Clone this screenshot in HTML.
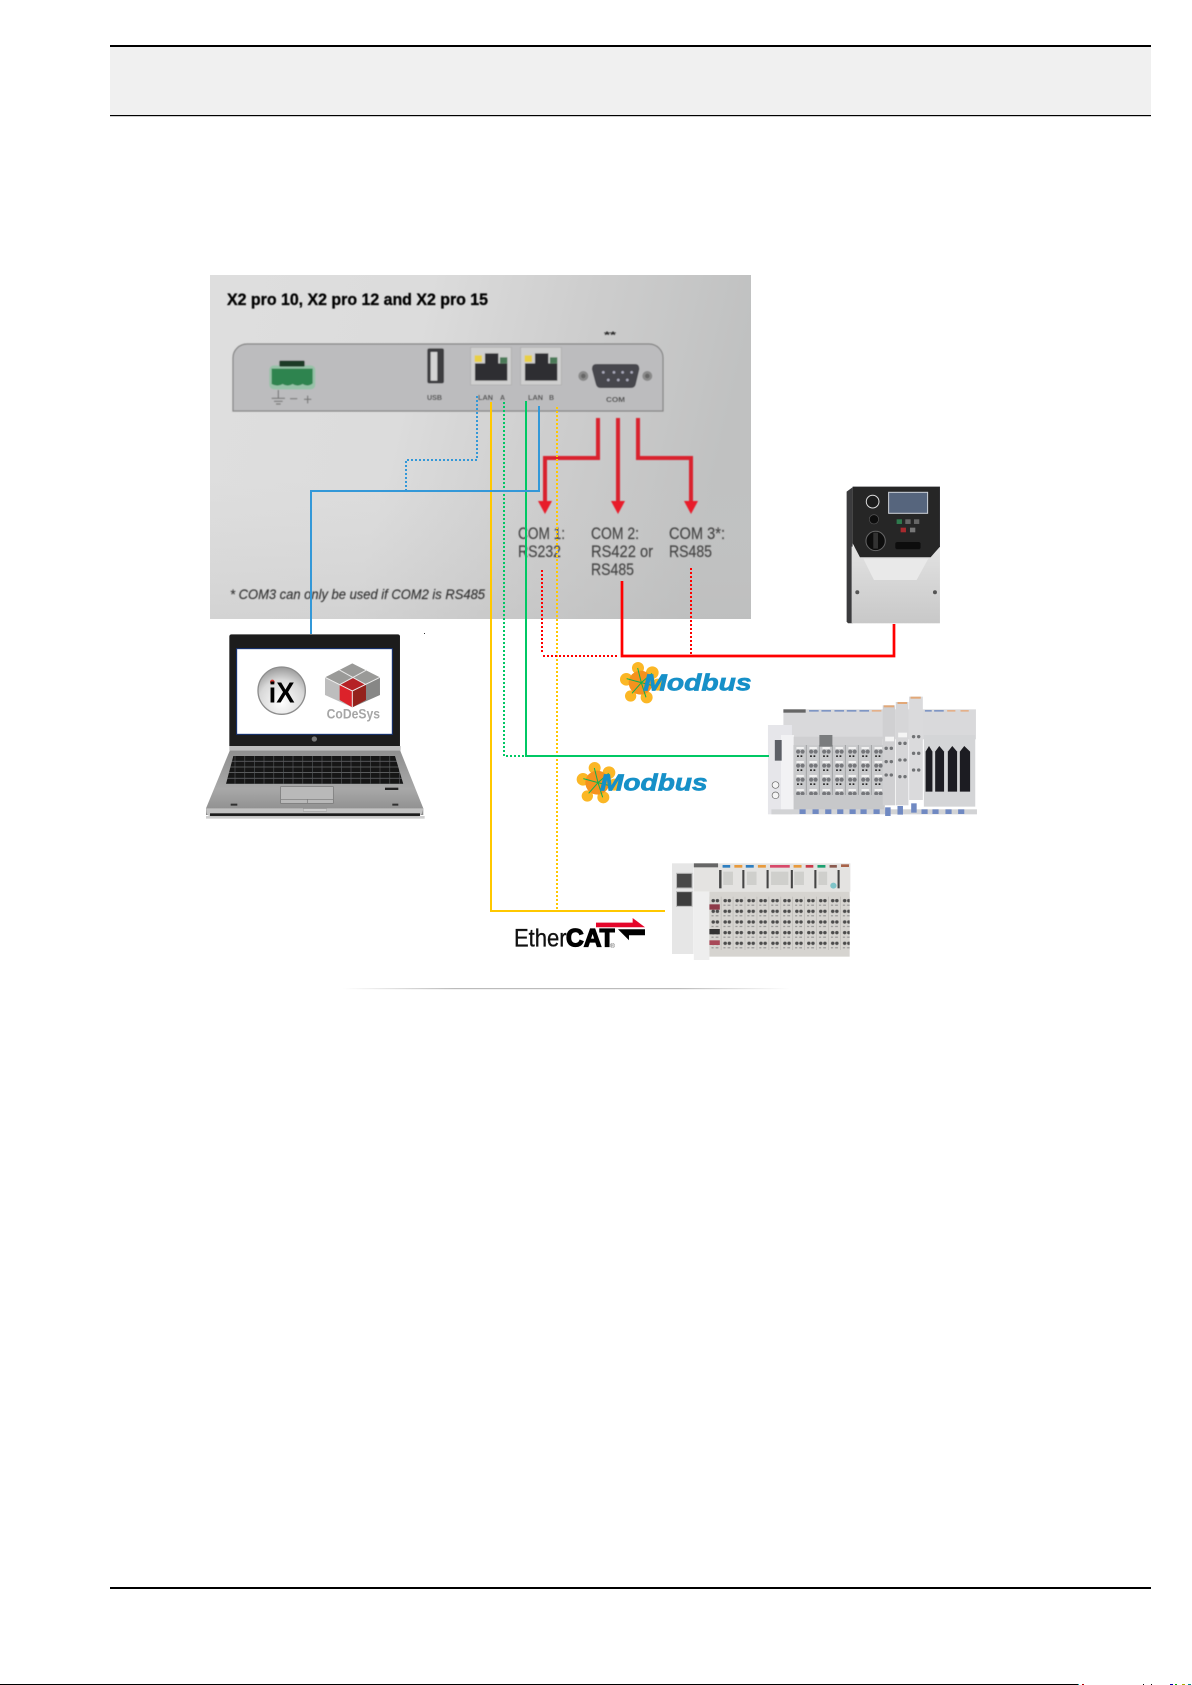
<!DOCTYPE html>
<html><head><meta charset="utf-8"><style>
html,body{margin:0;padding:0;background:#fff;width:1192px;height:1685px;overflow:hidden}
svg{display:block}
text{font-family:"Liberation Sans",sans-serif}
</style></head><body>
<svg width="1192" height="1685" viewBox="0 0 1192 1685" xmlns="http://www.w3.org/2000/svg">
<defs>
<filter id="b1" x="-5%" y="-5%" width="110%" height="110%"><feGaussianBlur stdDeviation="0.5"/></filter>
<filter id="b2" x="-5%" y="-5%" width="110%" height="110%"><feGaussianBlur stdDeviation="1.2"/></filter>
<linearGradient id="pg" x1="0" y1="0" x2="1" y2="0.15">
<stop offset="0" stop-color="#dedede"/><stop offset="0.4" stop-color="#dcdcdc"/><stop offset="0.7" stop-color="#cdcdcd"/><stop offset="1" stop-color="#c0c1c1"/></linearGradient>
<linearGradient id="sh" x1="0" y1="0" x2="0" y2="1"><stop offset="0" stop-color="#fff" stop-opacity="0"/><stop offset="0.6" stop-color="#ccc" stop-opacity="0"/><stop offset="1" stop-color="#bbb" stop-opacity=".3"/></linearGradient>
<linearGradient id="rule" x1="0" y1="0" x2="1" y2="0"><stop offset="0" stop-color="#bbb" stop-opacity="0"/><stop offset="0.25" stop-color="#bbb"/><stop offset="0.75" stop-color="#bbb"/><stop offset="1" stop-color="#bbb" stop-opacity="0"/></linearGradient>
<linearGradient id="base" x1="0" y1="0" x2="0" y2="1"><stop offset="0" stop-color="#8f8f8f"/><stop offset="0.6" stop-color="#a8a8a8"/><stop offset="1" stop-color="#8a8a8a"/></linearGradient>
<radialGradient id="ix" cx="0.5" cy="0.75" r="0.8"><stop offset="0" stop-color="#fff"/><stop offset="0.6" stop-color="#d8d8d8"/><stop offset="1" stop-color="#8d8d8d"/></radialGradient>
<linearGradient id="dr" x1="0" y1="0" x2="0" y2="1"><stop offset="0" stop-color="#e2e2e2"/><stop offset="1" stop-color="#c8c8c8"/></linearGradient>
<pattern id="keys" width="29" height="17" patternUnits="userSpaceOnUse" x="108" y="408"><rect width="29" height="17" fill="#141414"/><rect y="15" width="29" height="2" fill="#77797c"/><rect x="26" width="2" height="17" fill="#55575a"/></pattern>
<pattern id="io1" width="38" height="42" patternUnits="userSpaceOnUse" x="105" y="165"><rect width="38" height="42" fill="#c9cacc"/><rect x="8" y="6" width="22" height="6" fill="#f2f2f2"/><circle cx="13" cy="20" r="6" fill="#74767a"/><circle cx="26" cy="20" r="6" fill="#74767a"/><rect x="10" y="31" width="5" height="5" fill="#222"/><rect x="20" y="31" width="5" height="5" fill="#222"/><rect x="36" width="2" height="42" fill="#8e9092"/></pattern>
<pattern id="io2" width="34.5" height="32" patternUnits="userSpaceOnUse" x="130" y="125"><rect width="34.5" height="32" fill="#d6d4d0"/><circle cx="11" cy="12" r="5" fill="#4c4c4c"/><circle cx="23" cy="12" r="5" fill="#4c4c4c"/><rect x="6" y="24" width="6" height="3" fill="#8a8a8a"/><rect x="18" y="24" width="8" height="3" fill="#8a8a8a"/><rect x="33" width="1.5" height="32" fill="#b3b1ad"/></pattern>
<g id="flower">
<g fill="#fbb726"><circle cx="474" cy="84" r="18"/><circle cx="517" cy="98" r="19"/><circle cx="439" cy="118" r="19"/><circle cx="533" cy="134" r="18"/><circle cx="452" cy="168" r="17"/><circle cx="500" cy="172" r="18"/></g>
<circle cx="482" cy="128" r="36" fill="#f5921e"/>
<g stroke="#10b050" stroke-width="3" fill="none"><path d="M484 128 473 84M484 128 516 100M484 128 440 116M484 128 456 160M484 128 498 172M484 128 530 140"/></g>
</g>
</defs>

<!-- header / footer -->
<rect x="110" y="47" width="1041" height="68" fill="#f0f0f0"/>
<rect x="110" y="45" width="1041" height="2" fill="#000"/>
<rect x="110" y="115" width="1041" height="1.2" fill="#000"/>
<rect x="110" y="1587" width="1041" height="2" fill="#000"/>
<rect x="0" y="1684" width="1078" height="1" fill="#000"/>
<g><rect x="1078" y="1684" width="1" height="1" fill="#0aa"/><rect x="1082" y="1684" width="2" height="1" fill="#a00"/><rect x="1143" y="1684" width="1" height="1" fill="#000"/><rect x="1151" y="1684" width="1" height="1" fill="#000"/><rect x="1170" y="1684" width="3" height="1" fill="#00a"/><rect x="1175" y="1684" width="2" height="1" fill="#0a0"/><rect x="1182" y="1684" width="3" height="1" fill="#aa0"/><rect x="1188" y="1684" width="3" height="1" fill="#088"/></g>

<!-- photo panel -->
<rect x="210" y="275" width="541" height="344" fill="url(#pg)"/>
<rect x="210" y="275" width="541" height="344" fill="url(#sh)"/>

<g filter="url(#b1)">
<text x="227" y="305" font-size="17" font-weight="bold" fill="#000" stroke="#000" stroke-width=".3" textLength="261" lengthAdjust="spacingAndGlyphs">X2 pro 10, X2 pro 12 and X2 pro 15</text>
<text x="230" y="599" font-size="14" font-style="italic" fill="#333" stroke="#333" stroke-width=".15" textLength="255" lengthAdjust="spacingAndGlyphs">* COM3 can only be used if COM2 is RS485</text>
<text x="604" y="338" font-size="9.5" font-weight="bold" fill="#222" textLength="12" lengthAdjust="spacingAndGlyphs">**</text>

<!-- back panel -->
<path d="M233 411V358a14 14 0 0 1 14-14H649a14 14 0 0 1 14 14V411Z" fill="#bcbcbe" stroke="#858585" stroke-width="1.2"/>
<g transform="translate(220 340) scale(.3333)">
<rect x="148" y="76" width="138" height="72" rx="14" fill="#7fc79a" opacity=".6"/>
<rect x="178" y="62" width="76" height="18" rx="3" fill="#1d3a28"/>
<path d="M155 86H278V130q-15 12-30 2q-15 10-30 0q-15 10-30 0q-15 10-33 0Z" fill="#2f8450"/>
<path d="M175 150V175M155 175H195M162 184H188M168 192H182M210 176H232M252 178H274M263 167V190" stroke="#777" stroke-width="3.5" fill="none"/>
<rect x="622" y="25" width="50" height="105" rx="6" fill="#3c3c40"/>
<rect x="632" y="36" width="20" height="86" fill="#d4d4d4"/>
<g><rect x="752" y="22" width="122" height="113" fill="#cfcfcf" stroke="#aaa" stroke-width="2"/>
<path d="M765 122V70H795V40H835V70H862V122Z" fill="#2e2e33"/><rect x="764" y="46" width="22" height="20" fill="#e8cf45"/><rect x="840" y="52" width="22" height="18" fill="#4b7a58"/></g>
<g><rect x="902" y="22" width="122" height="113" fill="#cfcfcf" stroke="#aaa" stroke-width="2"/>
<path d="M915 122V70H945V40H985V70H1012V122Z" fill="#2e2e33"/><rect x="914" y="46" width="22" height="20" fill="#e8cf45"/><rect x="990" y="52" width="22" height="18" fill="#4b7a58"/></g>
<path d="M1130 72H1245q14 0 13 16L1248 130q-2 14-16 14H1142q-12 0-15-14L1116 88q-1-16 14-16Z" fill="#47474e"/>
<g fill="#aab"><circle cx="1150" cy="97" r="4"/><circle cx="1182" cy="97" r="4"/><circle cx="1208" cy="97" r="4"/><circle cx="1235" cy="97" r="4"/><circle cx="1165" cy="120" r="4"/><circle cx="1195" cy="120" r="4"/><circle cx="1222" cy="120" r="4"/></g>
<circle cx="1090" cy="108" r="15" fill="#8a8a8a"/><circle cx="1090" cy="108" r="7" fill="#666"/>
<circle cx="1282" cy="108" r="15" fill="#8a8a8a"/><circle cx="1282" cy="108" r="7" fill="#666"/>
</g>
<g font-weight="bold" fill="#4a4a4a" font-size="7">
<text x="427" y="400" textLength="15" lengthAdjust="spacingAndGlyphs">USB</text>
<text x="478" y="400" textLength="15" lengthAdjust="spacingAndGlyphs">LAN</text>
<text x="500" y="400">A</text>
<text x="528" y="400" textLength="15" lengthAdjust="spacingAndGlyphs">LAN</text>
<text x="549" y="400">B</text>
<text x="606" y="402" textLength="19" lengthAdjust="spacingAndGlyphs">COM</text>
</g>

<!-- COM labels -->
<g font-size="16.5" fill="#444" stroke="#444" stroke-width=".15">
<text x="518" y="539" textLength="47" lengthAdjust="spacingAndGlyphs">COM 1:</text>
<text x="518" y="557" textLength="43" lengthAdjust="spacingAndGlyphs">RS232</text>
<text x="591" y="539" textLength="48" lengthAdjust="spacingAndGlyphs">COM 2:</text>
<text x="591" y="557" textLength="62" lengthAdjust="spacingAndGlyphs">RS422 or</text>
<text x="591" y="575" textLength="43" lengthAdjust="spacingAndGlyphs">RS485</text>
<text x="669" y="539" textLength="56" lengthAdjust="spacingAndGlyphs">COM 3*:</text>
<text x="669" y="557" textLength="43" lengthAdjust="spacingAndGlyphs">RS485</text>
</g>

<!-- thick red arrows -->
<g fill="none" stroke="#d9232f" stroke-width="4">
<path d="M598 418V458H545V503"/>
<path d="M618 418V503"/>
<path d="M638 418V458H691V503"/>
</g>
<g fill="#e81c2c">
<path d="M538 501H552L545 514Z"/>
<path d="M611 501H625L618 514Z"/>
<path d="M684 501H698L691 514Z"/>
</g>
</g>

<!-- laptop -->
<g transform="translate(190 620) scale(.3333)" filter="url(#b1)">
<path d="M120 390H630L700 565V585H48V565Z" fill="url(#base)"/>
<path d="M48 565H700L696 580Q690 590 680 590H70Q55 590 50 580Z" fill="#c2c2c2"/>
<rect x="60" y="580" width="630" height="8" fill="#1c1c1c"/>
<rect x="48" y="588" width="656" height="8" fill="#b8b8b8" opacity=".7"/>
<path d="M118 378H632V392H118Z" fill="#bdbdbd"/>
<path d="M130 408H615L640 492H108Z" fill="url(#keys)"/>
<rect x="272" y="500" width="158" height="50" fill="#b9b9b9" stroke="#777" stroke-width="2"/>
<path d="M272 538H430M352 538V550" stroke="#777" stroke-width="2"/>
<rect x="585" y="503" width="40" height="7" fill="#222"/>
<rect x="122" y="551" width="20" height="6" fill="#333"/><rect x="607" y="551" width="18" height="6" fill="#333"/>
<rect x="340" y="566" width="70" height="8" fill="#cfcfcf" stroke="#888"/>
<path d="M118 50Q118 43 125 43H623Q630 43 630 50V378H118Z" fill="#1b1b1d"/>
<circle cx="373" cy="357" r="8" fill="#777"/>
<rect x="140" y="86" width="467" height="257" fill="#fff" stroke="#15357a" stroke-width="3"/>
<circle cx="275" cy="212" r="71" fill="url(#ix)" stroke="#8d8d8d" stroke-width="4"/>
<circle cx="247" cy="186" r="7" fill="#d93a35"/>
<text x="236" y="247" font-size="86" font-weight="bold" fill="#000" textLength="78" lengthAdjust="spacingAndGlyphs">iX</text>
<path d="M487 130 570 172 487 213 405 172Z" fill="#9a9a98"/>
<path d="M405 172V225L487 262V213Z" fill="#bdbdbd"/>
<path d="M570 172V225L487 262V213Z" fill="#878786"/>
<path d="M449 194 490 174 528 194 487 213Z" fill="#b52428"/>
<path d="M449 194V240L487 262V213Z" fill="#dc242c"/>
<path d="M528 194V240L487 262V213Z" fill="#94201f"/>
<path d="M448 150 528 194M530 150 449 194" stroke="#e8e8e8" stroke-width="3"/>
<path d="M487 213V262M405 172 487 213 570 172" stroke="#eee" stroke-width="3" fill="none"/>
<text x="410" y="295" font-size="42" font-weight="bold" fill="#a6a6a6" textLength="160" lengthAdjust="spacingAndGlyphs">CoDeSys</text>
</g>
<rect x="424" y="633" width="1" height="1" fill="#333"/>

<!-- drive -->
<g transform="translate(480 260) scale(.3333)" filter="url(#b1)">
<path d="M1100 695 1118 682V1090H1104L1100 1085Z" fill="#3a3a3c"/>
<rect x="1115" y="860" width="265" height="230" fill="url(#dr)"/>
<path d="M1118 680H1380V860L1352 892H1140L1118 850Z" fill="#252527"/>
<path d="M1150 896H1345L1310 960H1182Z" fill="#e9e9e9"/>
<rect x="1226" y="697" width="117" height="63" fill="#56657d" stroke="#cfd4da" stroke-width="3"/>
<circle cx="1178" cy="725" r="19" fill="#1a1a1a" stroke="#ddd" stroke-width="3"/>
<circle cx="1182" cy="778" r="14" fill="#111" stroke="#555" stroke-width="2"/>
<circle cx="1187" cy="843" r="29" fill="#0f0f0f" stroke="#666" stroke-width="3"/>
<rect x="1180" y="818" width="14" height="48" fill="#333"/>
<rect x="1250" y="778" width="16" height="14" fill="#2f7a4e"/><rect x="1276" y="778" width="16" height="14" fill="#666"/><rect x="1302" y="778" width="16" height="14" fill="#666"/>
<rect x="1262" y="803" width="16" height="14" fill="#a82a2e"/><rect x="1290" y="803" width="16" height="14" fill="#777"/>
<rect x="1246" y="846" width="76" height="22" rx="6" fill="#111"/>
<circle cx="1132" cy="997" r="6" fill="#555"/><circle cx="1365" cy="997" r="6" fill="#555"/>
</g>

<!-- IO module 1 -->
<g transform="translate(757.7 690) scale(.3426 .3333)" filter="url(#b1)">
<rect x="75" y="58" width="562" height="90" fill="#d9d9db"/>
<rect x="75" y="58" width="65" height="10" fill="#666"/>
<rect x="30" y="105" width="70" height="268" fill="#e6e6ea"/>
<rect x="68" y="135" width="38" height="225" fill="#f2f2f4"/>
<path d="M50 150H70V212H50Z" fill="#5c5f66"/>
<circle cx="52" cy="285" r="10" fill="#f4f4f4" stroke="#666" stroke-width="2"/><circle cx="52" cy="316" r="10" fill="#f4f4f4" stroke="#666" stroke-width="2"/>
<rect x="105" y="140" width="260" height="220" fill="#cfcfd1"/>
<rect x="105" y="165" width="266" height="150" fill="url(#io1)"/>
<rect x="180" y="135" width="38" height="35" fill="#7a7c7e"/>
<rect x="105" y="315" width="266" height="45" fill="#c7c8ca"/>
<g fill="#7f96c4"><rect x="150" y="60" width="28" height="5"/><rect x="186" y="60" width="28" height="5"/><rect x="224" y="60" width="28" height="5"/><rect x="260" y="60" width="28" height="5"/><rect x="297" y="60" width="28" height="5"/><rect x="488" y="60" width="20" height="5"/><rect x="515" y="60" width="28" height="5"/></g>
<g fill="#e4b08a"><rect x="333" y="60" width="28" height="5"/><rect x="553" y="60" width="24" height="5"/><rect x="592" y="60" width="24" height="5"/></g>
<rect x="365" y="46" width="36" height="300" fill="#d0d0d2"/><rect x="368" y="46" width="30" height="6" fill="#e2a878"/>
<rect x="403" y="36" width="37" height="310" fill="#d6d6d8"/><rect x="408" y="36" width="28" height="6" fill="#e2a878"/>
<rect x="442" y="20" width="40" height="310" fill="#dadadc"/><rect x="446" y="20" width="30" height="6" fill="#e2a878"/>
<rect x="372" y="140" width="26" height="14" fill="#f5f5f5"/><rect x="410" y="128" width="26" height="14" fill="#f5f5f5"/>
<g fill="#707274"><circle cx="375" cy="175" r="5"/><circle cx="390" cy="175" r="5"/><circle cx="375" cy="215" r="5"/><circle cx="390" cy="215" r="5"/><circle cx="375" cy="255" r="5"/><circle cx="390" cy="255" r="5"/><circle cx="415" cy="160" r="5"/><circle cx="430" cy="160" r="5"/><circle cx="415" cy="210" r="5"/><circle cx="430" cy="210" r="5"/><circle cx="415" cy="260" r="5"/><circle cx="430" cy="260" r="5"/><circle cx="455" cy="140" r="5"/><circle cx="470" cy="140" r="5"/><circle cx="455" cy="190" r="5"/><circle cx="470" cy="190" r="5"/><circle cx="455" cy="240" r="5"/><circle cx="470" cy="240" r="5"/></g>
<rect x="485" y="135" width="150" height="215" fill="#d4d5d7"/>
<g fill="#1e1e20"><path d="M490 185 500 168 510 185V305H490Z"/><path d="M518 185 530 168 544 185V305H518Z"/><path d="M555 185 568 168 582 185V305H555Z"/><path d="M590 185 603 168 620 185V305H590Z"/></g>
<rect x="40" y="358" width="600" height="15" fill="#d2d3d5"/>
<g fill="#7089c2"><rect x="122" y="358" width="18" height="14"/><rect x="160" y="358" width="18" height="14"/><rect x="197" y="358" width="18" height="14"/><rect x="232" y="358" width="18" height="14"/><rect x="268" y="358" width="18" height="14"/><rect x="300" y="358" width="18" height="14"/><rect x="338" y="358" width="18" height="14"/><rect x="372" y="352" width="16" height="26"/><rect x="408" y="348" width="16" height="26"/><rect x="448" y="340" width="16" height="28"/><rect x="478" y="358" width="18" height="14"/><rect x="510" y="358" width="18" height="14"/><rect x="548" y="358" width="18" height="14"/><rect x="585" y="358" width="18" height="14"/></g>
</g>

<!-- IO module 2 -->
<g transform="translate(664.4 855) scale(.3463 .3333)" filter="url(#b1)">
<rect x="22" y="25" width="62" height="272" fill="#e6e6e6"/>
<rect x="85" y="25" width="452" height="85" fill="#e4e3e1"/>
<rect x="85" y="25" width="70" height="12" fill="#666"/>
<rect x="85" y="110" width="45" height="205" fill="#eeeeee"/>
<rect x="35" y="55" width="45" height="44" fill="#4a4a4a" stroke="#bbb" stroke-width="3"/>
<rect x="35" y="110" width="45" height="44" fill="#3c3c3c" stroke="#bbb" stroke-width="3"/>
<rect x="130" y="110" width="405" height="195" fill="#d6d4d0"/>
<rect x="130" y="125" width="405" height="160" fill="url(#io2)"/>
<rect x="130" y="148" width="30" height="16" fill="#8e3a4a"/><rect x="130" y="222" width="30" height="16" fill="#333"/><rect x="130" y="256" width="30" height="14" fill="#a84858"/>
<rect x="168" y="30" width="22" height="8" fill="#2f7ec0"/><rect x="202" y="30" width="23" height="8" fill="#e89a3c"/><rect x="235" y="30" width="23" height="8" fill="#2f7ec0"/><rect x="270" y="30" width="23" height="8" fill="#e89a3c"/><rect x="305" y="30" width="57" height="8" fill="#d84a6a"/><rect x="373" y="30" width="23" height="8" fill="#e89a3c"/><rect x="408" y="30" width="22" height="8" fill="#c83a4a"/><rect x="442" y="30" width="23" height="8" fill="#1fa070"/><rect x="477" y="30" width="21" height="8" fill="#8a5a50"/><rect x="510" y="28" width="23" height="8" fill="#a8644a"/>
<g fill="#444"><rect x="158" y="45" width="7" height="55"/><rect x="225" y="45" width="6" height="55"/><rect x="295" y="45" width="6" height="55"/><rect x="365" y="45" width="6" height="55"/><rect x="433" y="45" width="6" height="55"/><rect x="500" y="45" width="6" height="55"/></g>
<g fill="#cfcfcc"><rect x="170" y="50" width="28" height="40"/><rect x="238" y="50" width="28" height="40"/><rect x="308" y="50" width="50" height="40"/><rect x="375" y="50" width="28" height="40"/><rect x="445" y="50" width="25" height="40"/></g>
<circle cx="488" cy="92" r="9" fill="#7fc4c8"/>
</g>

<!-- Modbus logos -->
<g transform="translate(480 640) scale(.3333)">
<use href="#flower"/>
<use href="#flower" x="-130" y="300"/>
<text x="490" y="151" font-size="68" font-weight="bold" font-style="italic" fill="#1690c8" stroke="#1690c8" stroke-width="2" textLength="325" lengthAdjust="spacingAndGlyphs">Modbus</text>
<text x="360" y="451" font-size="68" font-weight="bold" font-style="italic" fill="#1690c8" stroke="#1690c8" stroke-width="2" textLength="323" lengthAdjust="spacingAndGlyphs">Modbus</text>
<!-- EtherCAT -->
<text x="102" y="920" font-size="76" fill="#111" stroke="#111" stroke-width="1" textLength="158" lengthAdjust="spacingAndGlyphs">Ether</text>
<text x="258" y="920" font-size="76" font-weight="bold" fill="#000" stroke="#000" stroke-width="4" textLength="146" lengthAdjust="spacingAndGlyphs">CAT</text>
<text x="390" y="924" font-size="20" fill="#555">®</text>
<path d="M348 848H458V834L495 862H348Z" fill="#e4062a"/>
<path d="M495 868V886H447V901L414 868Z" fill="#000"/>
</g>

<!-- thin rule -->
<rect x="343" y="988" width="447" height="1.2" fill="url(#rule)"/>

<!-- connectors -->
<g fill="none" stroke-width="2">
<path d="M491 402V911H665" stroke="#ffc800"/>
<path d="M557 407V911" stroke="#ffc800" stroke-dasharray="2 2"/>
<path d="M504 402V756H525" stroke="#00c864" stroke-dasharray="2 2"/>
<path d="M526 401V756H769" stroke="#00c864"/>
<path d="M477 396V460H406V491" stroke="#3398d8" stroke-dasharray="2 2"/>
<path d="M539 406V491H311V634" stroke="#3398d8"/>
<path d="M542 570V652" stroke="#f00" stroke-dasharray="2 2"/>
<path d="M543 656H617" stroke="#f00" stroke-dasharray="2 2"/>
<path d="M691 568V654" stroke="#f00" stroke-dasharray="2 2"/>
<path d="M622 581V656H894V624" stroke="#f00" stroke-width="2.7"/>
</g>
</svg>
</body></html>
